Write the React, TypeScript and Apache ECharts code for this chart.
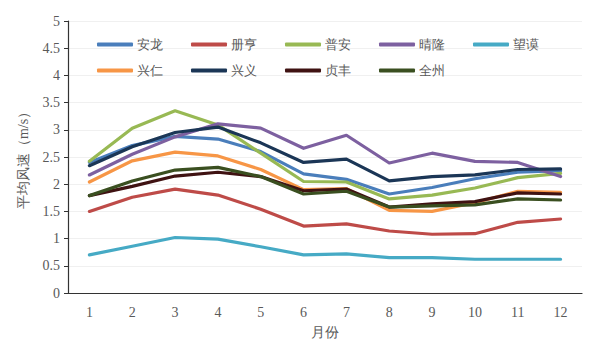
import React, { useEffect, useRef } from "react";
import * as echarts from "echarts";

const months = ["1", "2", "3", "4", "5", "6", "7", "8", "9", "10", "11", "12"];

const anlong = [2.4, 2.71, 2.88, 2.83, 2.6, 2.19, 2.09, 1.82, 1.94, 2.1, 2.22, 2.25];
const ceheng = [1.5, 1.76, 1.91, 1.8, 1.54, 1.23, 1.27, 1.14, 1.08, 1.09, 1.3, 1.36];
const puan = [2.42, 3.03, 3.35, 3.09, 2.57, 2.05, 2.04, 1.73, 1.8, 1.93, 2.12, 2.2];
const qinglong = [2.17, 2.55, 2.87, 3.11, 3.03, 2.66, 2.9, 2.39, 2.57, 2.42, 2.4, 2.14];
const wangmo = [0.7, 0.86, 1.02, 0.99, 0.85, 0.7, 0.72, 0.65, 0.65, 0.62, 0.62, 0.62];
const xingren = [2.04, 2.43, 2.59, 2.52, 2.27, 1.9, 1.92, 1.52, 1.5, 1.66, 1.87, 1.85];
const xingyi = [2.34, 2.69, 2.95, 3.05, 2.76, 2.4, 2.46, 2.06, 2.14, 2.17, 2.27, 2.28];
const zhenfeng = [1.79, 1.96, 2.15, 2.22, 2.14, 1.88, 1.91, 1.58, 1.64, 1.68, 1.84, 1.82];
const quanzhou = [1.79, 2.06, 2.26, 2.31, 2.14, 1.82, 1.87, 1.58, 1.6, 1.62, 1.73, 1.71];

const seriesNames = ["安龙", "册亨", "普安", "晴隆", "望谟", "兴仁", "兴义", "贞丰", "全州"];
const seriesData = [anlong, ceheng, puan, qinglong, wangmo, xingren, xingyi, zhenfeng, quanzhou];
const colors = ["#4A7EBB", "#BE4B48", "#98B954", "#7D60A0", "#46AAC5", "#F79646", "#1B3656", "#3F1212", "#3A4F20"];

const SERIF = "Liberation Serif";

export default function App() {
  const ref = useRef<HTMLDivElement>(null);
  useEffect(() => {
    if (!ref.current) return;
    const chart = echarts.init(ref.current, undefined, { renderer: "svg" });
    const legendBase = {
      orient: "horizontal" as const,
      left: 97,
      itemWidth: 36,
      itemHeight: 4,
      itemGap: 28,
      icon: "roundRect",
      textStyle: { fontFamily: SERIF, fontSize: 13, color: "#595959", padding: [0, 0, 0, -1] },
      padding: 0,
    };
    chart.setOption({
      animation: false,
      color: colors,
      legend: [
        { ...legendBase, top: 38, data: seriesNames.slice(0, 5) },
        { ...legendBase, top: 64, data: seriesNames.slice(5) },
      ],
      grid: { left: 68, right: 18, top: 21, bottom: 63, containLabel: false },
      xAxis: {
        type: "category",
        data: months,
        boundaryGap: true,
        name: "月份",
        nameLocation: "middle",
        nameGap: 32,
        nameTextStyle: { fontFamily: SERIF, fontSize: 14, color: "#595959" },
        axisLine: { lineStyle: { color: "#333", width: 1.2 } },
        axisTick: { inside: true, length: 5, lineStyle: { color: "#333" } },
        axisLabel: { margin: 12, fontFamily: SERIF, fontSize: 14, color: "#595959" },
        splitLine: { show: false },
      },
      yAxis: {
        type: "value",
        min: 0,
        max: 5,
        interval: 0.5,
        name: "平均风速（m/s）",
        nameLocation: "middle",
        nameGap: 38,
        nameRotate: 90,
        nameTextStyle: { fontFamily: SERIF, fontSize: 14, color: "#595959" },
        axisLine: { show: true, lineStyle: { color: "#333", width: 1.2 } },
        axisTick: { show: true, length: 4, lineStyle: { color: "#333" } },
        axisLabel: { margin: 8, fontFamily: SERIF, fontSize: 14, color: "#595959" },
        splitLine: { show: true, lineStyle: { color: "#F0F0F0", width: 1 } },
      },
      series: seriesNames.map((name, i) => ({
        name,
        type: "line",
        data: seriesData[i],
        symbol: "none",
        lineStyle: { width: 3.2, color: colors[i], cap: "round", join: "round" },
        itemStyle: { color: colors[i] },
      })),
    });
    return () => chart.dispose();
  }, []);
  return <div ref={ref} style={{ width: 600, height: 356, position: "absolute", left: 0, top: 0 }} />;
}
